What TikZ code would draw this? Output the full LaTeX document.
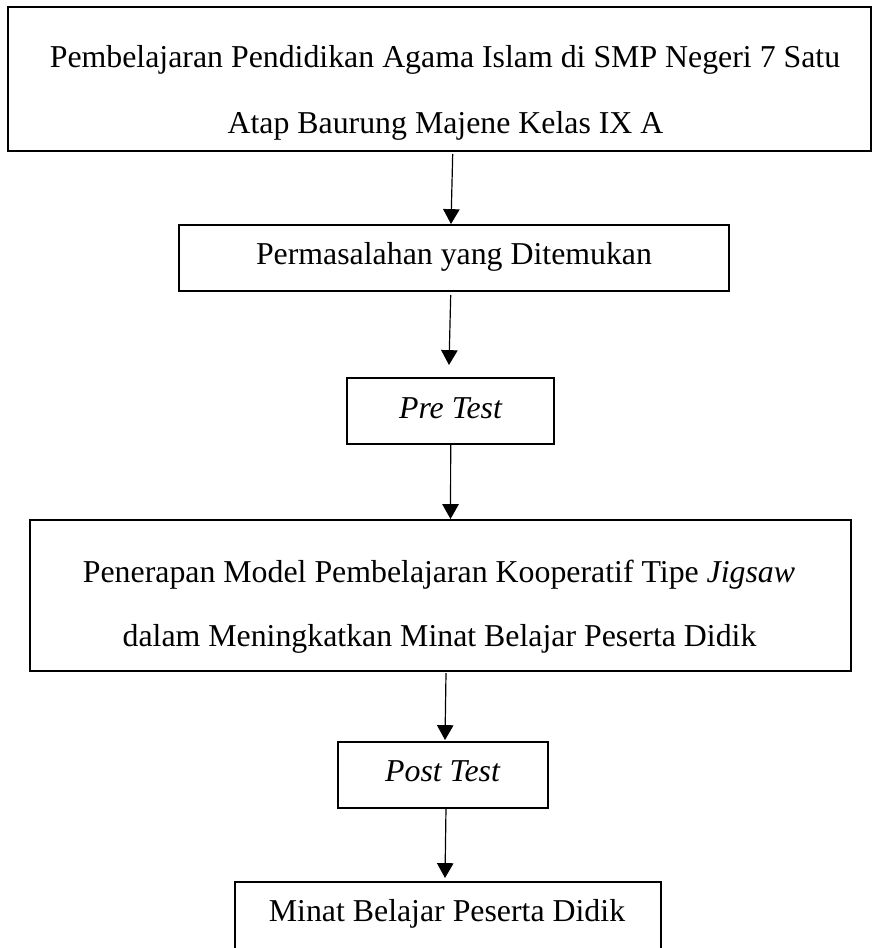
\documentclass[tikz,border=0pt]{standalone}
\usepackage{fontspec}
\setmainfont{Liberation Serif}
\usetikzlibrary{arrows.meta,calc}
\tikzset{
  flowbox/.style={draw=black, line width=0.5pt, rectangle, inner sep=0pt, outer sep=0pt},
  txt/.style={anchor=base, inner sep=0pt, font=\fontsize{12}{14}\selectfont},
  arr/.style={draw=black, line width=0.45pt, -{Triangle[width=6.2pt,length=5.6pt]}}
}
\begin{document}
\begin{tikzpicture}[x=0.377pt,y=-0.377pt]
\useasboundingbox (0,0) rectangle (873,948);
% boxes
\node[flowbox, minimum width={863*0.377pt}, minimum height={144*0.377pt}] (b1) at (439.5,79) {};
\node[flowbox, minimum width={550*0.377pt}, minimum height={66*0.377pt}] (b2) at (454,258) {};
\node[flowbox, minimum width={207*0.377pt}, minimum height={66*0.377pt}] (b3) at (450.5,411) {};
\node[flowbox, minimum width={821*0.377pt}, minimum height={151*0.377pt}] (b4) at (440.5,595.5) {};
\node[flowbox, minimum width={210*0.377pt}, minimum height={66*0.377pt}] (b5) at (443,775) {};
\node[flowbox, minimum width={426*0.377pt}, minimum height={72*0.377pt}] (b6) at (448,918) {};
% texts
\node[txt] (t1a) at (445,68) {Pembelajaran Pendidikan Agama Islam di SMP Negeri 7 Satu};
\node[txt] (t1b) at (445.5,133) {Atap Baurung Majene Kelas IX A};
\node[txt] (t2) at (454,264) {Permasalahan yang Ditemukan};
\node[txt] (t3) at (450.5,418) {\itshape Pre Test};
\node[txt] (t4a) at (439,582) {Penerapan Model Pembelajaran Kooperatif Tipe \textit{Jigsaw}};
\node[txt] (t4b) at (439.5,646) {dalam Meningkatkan Minat Belajar Peserta Didik};
\node[txt] (t5) at (442.5,781) {\itshape Post Test};
\node[txt] (t6) at (447,921) {Minat Belajar Peserta Didik};
% connectors
\draw[arr] ($(b1.south)+(13.2,3)$) -- ($(b2.north)+(-3,-1)$);
\draw[arr] ($(b2.south)+(-3.3,4)$) -- ($(b3.north)+(-1.5,-13)$);
\draw[arr] ($(b3.south)+(0.2,0)$) -- ($(b4.north)+(10,-1)$);
\draw[arr] ($(b4.south)+(5.5,2)$) -- ($(b5.north)+(2,-2)$);
\draw[arr] ($(b5.south)+(3,0)$) -- ($(b6.north)+(-3,-4)$);
\end{tikzpicture}
\end{document}
